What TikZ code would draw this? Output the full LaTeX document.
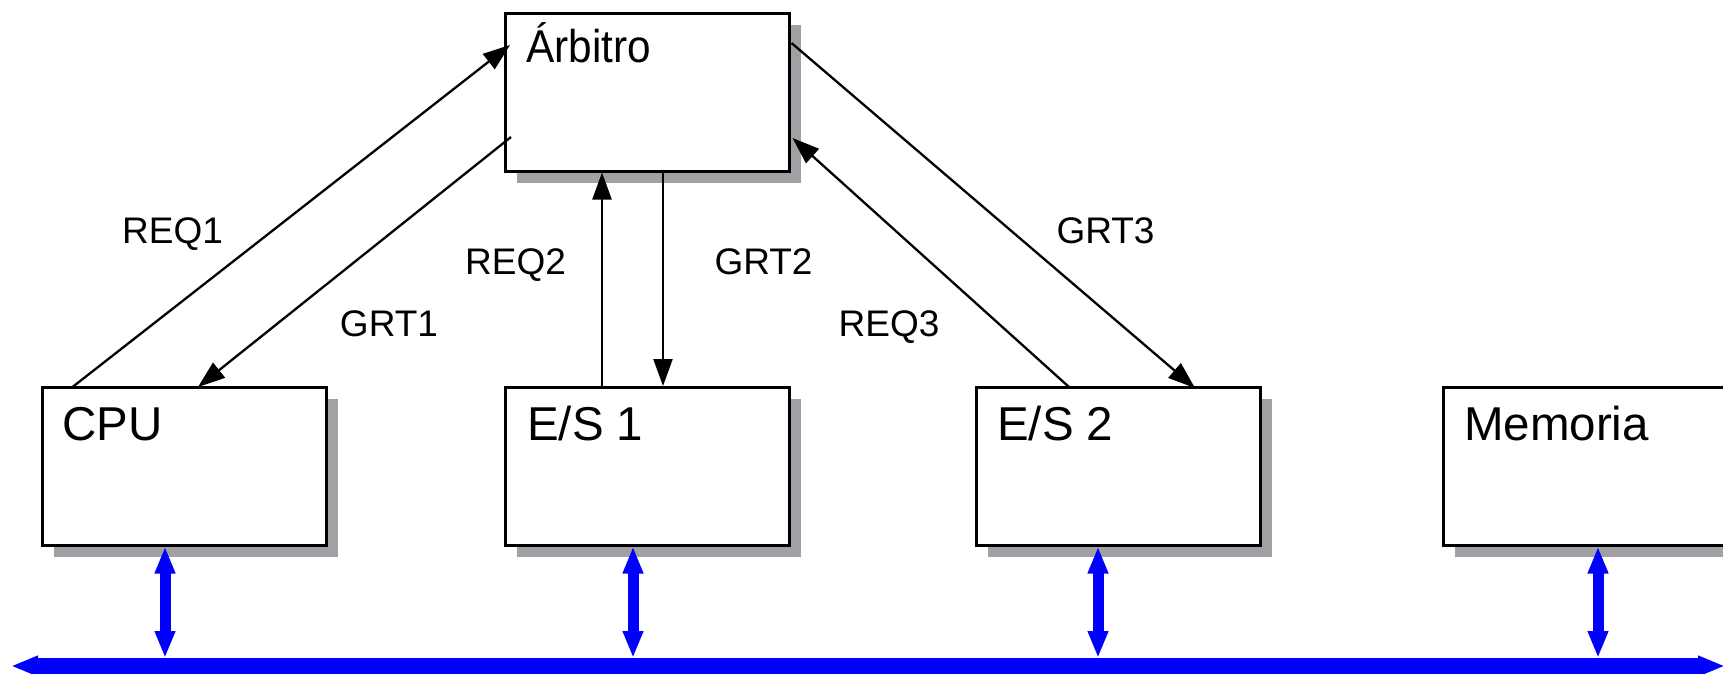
\documentclass[tikz,border=0pt]{standalone}
\usepackage{fontspec}
\setmainfont{Liberation Sans}
\newfontfamily\arbfont[FakeStretch=0.92]{Liberation Sans}
\usetikzlibrary{arrows.meta,shadows,calc}
\definecolor{shade}{RGB}{160,160,165}
\definecolor{busblue}{RGB}{0,0,255}
\begin{document}
\begin{tikzpicture}[x=1pt,y=-1pt,
  unit/.style={draw=black, line width=2.5pt, fill=white,
    minimum width=284pt, minimum height=158pt, inner sep=0pt,
    anchor=north west,
    drop shadow={shadow xshift=12pt, shadow yshift=-12pt, fill=shade, opacity=1}},
  unitname/.style={anchor=base west, inner sep=0pt, font=\fontsize{47.5}{52}\selectfont},
  sig/.style={anchor=base, inner sep=0pt, font=\fontsize{37}{42}\selectfont},
  handshake/.style={draw=black, line width=2.3pt, -{Triangle[length=27pt,width=19pt]}},
  busline/.style={draw=busblue, line width=11pt,
    {Triangle[length=27pt,width=19pt]}-{Triangle[length=27pt,width=19pt]}},
  mainbus/.style={draw=busblue, line width=15.5pt,
    {Triangle[length=27pt,width=19pt]}-{Triangle[length=27pt,width=19pt]}}
]
\useasboundingbox (0,0) rectangle (1723,673);

% functional units
\node[unit] (arb) at (504,12)  {};
\node[unit] (cpu) at (41,386)  {};
\node[unit] (es1) at (504,386) {};
\node[unit] (es2) at (975,386) {};
\node[unit] (mem) at (1442,386) {};

\node[unitname, font=\fontsize{46}{50}\arbfont] (arbname) at (526,62)  {Árbitro};
\node[unitname] (cpuname) at (62,440)  {CPU};
\node[unitname] (es1name) at (527,440) {E/S 1};
\node[unitname] (es2name) at (997,440) {E/S 2};
\node[unitname] (memname) at (1464,440) {Memoria};

% request / grant handshake lines
\draw[handshake] ($(cpu.north west)+(31.5,1)$) -- ($(arb.north west)+(6,33)$);
\draw[handshake] ($(arb.north west)+(7,125)$) -- ($(cpu.north west)+(157,1)$);
\draw[handshake] ($(es1.north west)+(98,1)$) -- ($(arb.south west)+(98,0)$);
\draw[handshake] ($(arb.south west)+(159,-1)$) -- ($(es1.north west)+(159,0)$);
\draw[handshake] ($(es2.north west)+(94,1)$) -- ($(arb.north east)+(2,126)$);
\draw[handshake] ($(arb.north east)+(1,31)$) -- ($(es2.north west)+(220,2)$);

\node[sig] (req1) at (172.5,243.5) {REQ1};
\node[sig] (grt1) at (389,336) {GRT1};
\node[sig] (req2) at (515.5,274.5) {REQ2};
\node[sig] (grt2) at (763.5,274.5) {GRT2};
\node[sig] (req3) at (889,336) {REQ3};
\node[sig] (grt3) at (1105.5,243.5) {GRT3};

% system bus
\coordinate (busL) at (11,666);
\coordinate (busR) at (1725,666);
\draw[mainbus] (busL) -- (busR);

\coordinate (t1) at (165,658);
\coordinate (t2) at (633,658);
\coordinate (t3) at (1098,658);
\coordinate (t4) at (1598,658);
\draw[busline] (t1 |- cpu.south) -- (t1);
\draw[busline] (t2 |- es1.south) -- (t2);
\draw[busline] (t3 |- es2.south) -- (t3);
\draw[busline] (t4 |- mem.south) -- (t4);
\end{tikzpicture}
\end{document}
